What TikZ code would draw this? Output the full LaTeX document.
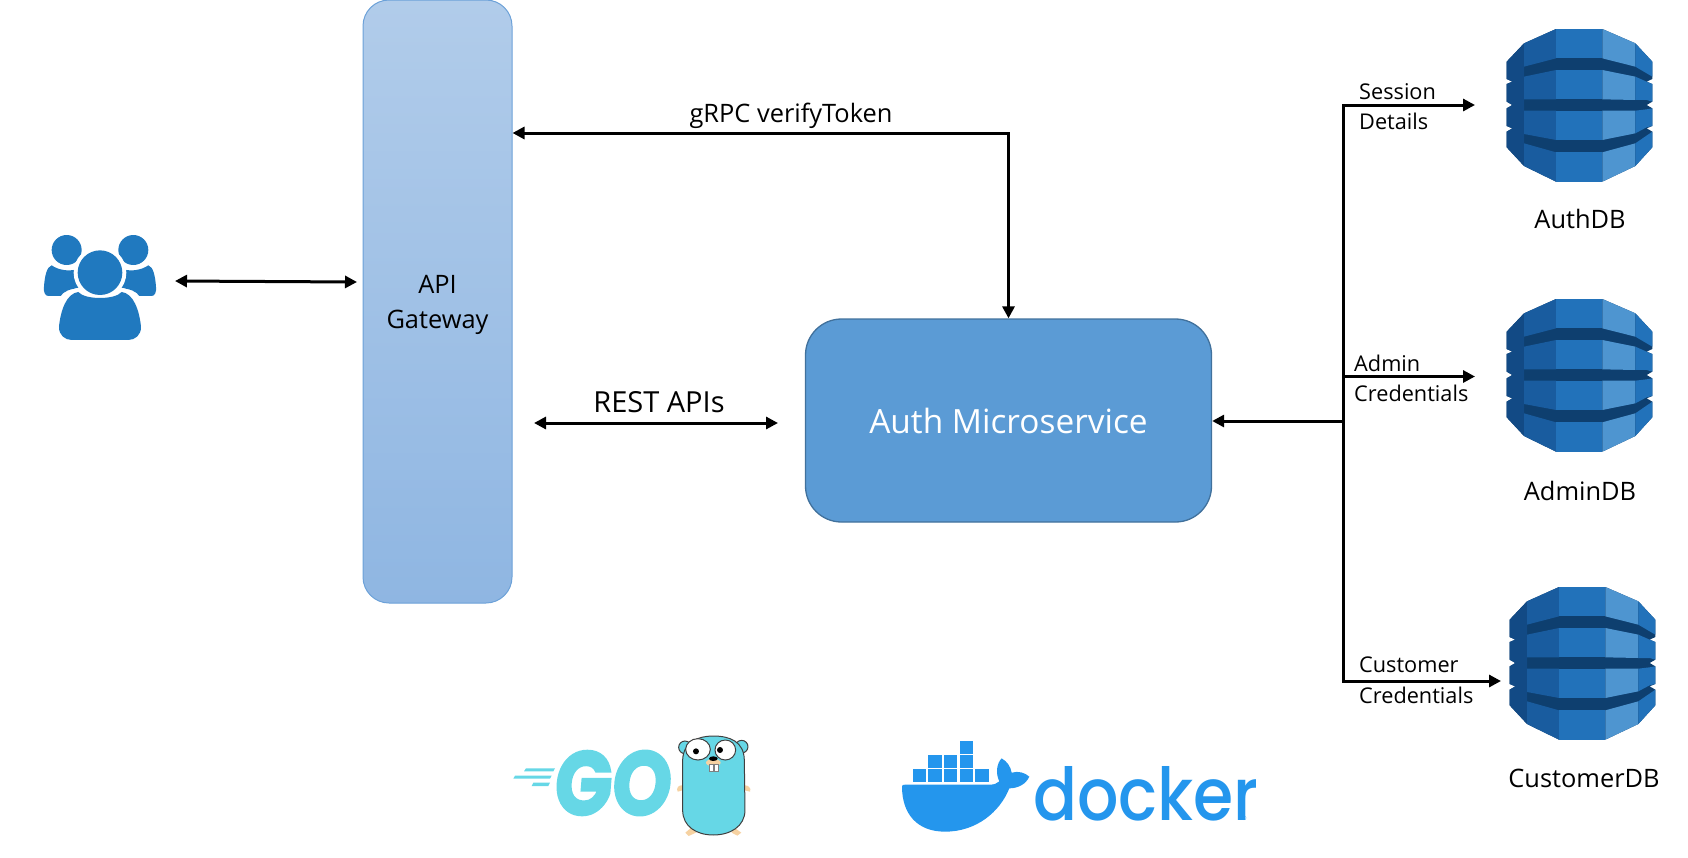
\documentclass[tikz,border=0pt]{standalone}
\usepackage{fontspec}
\setmainfont{Open Sans}
\newfontfamily\logofont[FakeBold=2.5,FakeSlant=0.1]{Poppins Bold}
\newfontfamily\dockfont{Poppins Medium}
\usetikzlibrary{arrows.meta}
\definecolor{dbdark}{HTML}{0E3F6F}
\definecolor{dbside}{HTML}{124A85}
\definecolor{dbleft}{HTML}{195C9F}
\definecolor{dbmid}{HTML}{2272BA}
\definecolor{dblight}{HTML}{4E95D0}
\definecolor{usercol}{HTML}{2079BF}
\definecolor{gocol}{HTML}{66D7E6}
\definecolor{dockcol}{HTML}{2496ED}
\definecolor{gotan}{HTML}{F6D2A2}
\tikzset{
 conn/.style={line width=3pt,-{Triangle[length=12pt,width=12pt]}},
 connboth/.style={line width=3pt,{Triangle[length=12pt,width=12pt]}-{Triangle[length=12pt,width=12pt]}},
 small/.style={font=\fontsize{21.7}{24}\selectfont,anchor=west,inner sep=0pt},
 mid/.style={font=\fontsize{25.4}{28}\selectfont,inner sep=0pt},
 big/.style={font=\fontsize{29}{32}\selectfont,inner sep=0pt},
 gopher/.style={draw=black!75,line width=1pt},
 db/.pic={
  \begin{scope}[x=0.3333pt,y=-0.3333pt]
  \fill[dbdark] (228,57)--(367,57)--(466,100)--(517,155)--(517,207)--(500,215)--(517,222)--(517,275)--(500,285)--(517,295)--(517,348)--(500,355)--(517,365)--(517,412)--(466,468)--(367,515)--(228,515)--(132,468)--(80,412)--(80,365)--(97,355)--(80,348)--(80,295)--(97,285)--(80,275)--(80,222)--(97,215)--(80,207)--(80,155)--(132,100)--cycle;
  \fill[dbside] (132,100)--(80,155)--(80,207)--(97,215)--(80,222)--(80,275)--(97,285)--(80,295)--(80,348)--(97,355)--(80,365)--(80,412)--(132,468)--cycle;
  \fill[dbleft] (132,100)--(228,57)--(228,145)--(132,170)--cycle;
  \fill[dbmid] (228,57)--(367,57)--(367,145)--(228,145)--cycle;
  \fill[dblight] (367,57)--(466,100)--(466,170)--(367,145)--cycle;
  \fill[dbmid] (466,100)--(517,155)--(517,200)--(466,170)--cycle;
  \fill[dbleft] (132,200)--(228,180)--(228,268)--(132,268)--cycle;
  \fill[dbmid] (228,180)--(367,180)--(367,268)--(228,268)--cycle;
  \fill[dblight] (367,180)--(466,200)--(466,270)--(367,268)--cycle;
  \fill[dbmid] (466,200)--(500,215)--(517,222)--(517,275)--(500,270)--(466,270)--cycle;
  \fill[dbleft] (132,302)--(228,302)--(228,390)--(132,372)--cycle;
  \fill[dbmid] (228,302)--(367,302)--(367,390)--(228,390)--cycle;
  \fill[dblight] (367,302)--(466,302)--(466,370)--(367,390)--cycle;
  \fill[dbmid] (466,302)--(500,298)--(517,295)--(517,348)--(500,352)--(466,370)--cycle;
  \fill[dbleft] (132,400)--(228,427)--(228,515)--(132,468)--cycle;
  \fill[dbmid] (228,427)--(367,427)--(367,515)--(228,515)--cycle;
  \fill[dblight] (367,427)--(466,400)--(466,468)--(367,515)--cycle;
  \fill[dbmid] (466,400)--(517,365)--(517,412)--(466,468)--cycle;
  \end{scope}
 },
 users/.pic={
  \begin{scope}[x=0.3333pt,y=-0.3333pt]
  \fill[usercol] (110,90) circle[radius=45];
  \fill[usercol] (310,90) circle[radius=45];
  \fill[usercol] (65,136) .. controls (85,150) and (115,155) .. (140,148) -- (150,205) .. controls (120,205) and (100,215) .. (92,228) -- (55,228) .. controls (45,228) and (40,215) .. (42,200) .. controls (44,170) and (50,140) .. (65,136) -- cycle;
  \fill[usercol] (355,136) .. controls (335,150) and (305,155) .. (280,148) -- (270,205) .. controls (300,205) and (320,215) .. (328,228) -- (365,228) .. controls (375,228) and (380,215) .. (378,200) .. controls (376,170) and (370,140) .. (355,136) -- cycle;
  \fill[white] (210,158) circle[radius=79];
  \fill[white] (80,370) -- (80,300) .. controls (85,240) and (110,205) .. (150,203) -- (270,203) .. controls (310,205) and (335,240) .. (340,300) -- (340,370) -- cycle;
  \fill[usercol] (210,158) circle[radius=67];
  \fill[usercol] (145,216) .. controls (165,240) and (255,240) .. (275,216) .. controls (310,220) and (328,270) .. (333,320) .. controls (334,345) and (315,360) .. (295,360) -- (125,360) .. controls (105,360) and (86,345) .. (87,320) .. controls (92,270) and (110,220) .. (145,216) -- cycle;
  \end{scope}
 },
 gobits/.pic={
  \begin{scope}[x=0.3333pt,y=-0.3333pt]
  \fill[gocol] (78,175)--(165,175)--(160,184)--(72,184)--cycle;
  \fill[gocol] (45,197)--(155,197)--(150,206)--(40,206)--cycle;
  \fill[gocol] (100,218)--(150,218)--(145,228)--(95,228)--cycle;
  \fill[gotan] (548,226) .. controls (535,224) and (528,235) .. (533,245) .. controls (540,245) and (548,240) .. (552,238) -- cycle;
  \fill[gotan] (732,226) .. controls (745,224) and (755,235) .. (750,245) .. controls (742,245) and (735,240) .. (730,238) -- cycle;
  \fill[gotan] (575,352) -- (556,368) -- (566,378) -- (588,368) -- cycle;
  \fill[gotan] (702,352) -- (724,368) -- (712,377) -- (695,368) -- cycle;
  \draw[gopher,fill=gocol] (555,112) circle[radius=19];
  \draw[gopher,fill=gocol] (725,110) circle[radius=19];
  \draw[gopher,fill=gocol] (548,150) .. controls (550,95) and (595,78) .. (640,78) .. controls (690,78) and (732,95) .. (733,150) -- (735,300) .. controls (735,350) and (690,375) .. (640,375) .. controls (590,375) and (548,350) .. (548,300) -- cycle;
  \draw[gopher,fill=white] (594,118) ellipse[x radius=37,y radius=32];
  \draw[gopher,fill=white] (676,120) ellipse[x radius=31,y radius=30];
  \fill[black] (588,124) circle[radius=9];
  \fill[black] (660,120) circle[radius=9];
  \fill[gotan] (640,158) ellipse[x radius=22,y radius=11];
  \draw[black!50,fill=white] (628,162) rectangle (640,185);
  \draw[black!50,fill=white] (642,162) rectangle (654,185);
  \fill[black] (640,146) ellipse[x radius=13,y radius=7];
  \end{scope}
 },
 whale/.pic={
  \begin{scope}[x=0.3333pt,y=-0.3333pt]
  \foreach \bx/\by in {209/63,115/105,162/105,209/105,68/148,115/148,162/148,209/148,256/148}
   \fill[dockcol] (\bx,\by) rectangle ++(40,38);
  \fill[dockcol] (36,200) .. controls (36,195) and (38,194) .. (45,194) -- (300,194) .. controls (312,194) and (322,190) .. (328,184) .. controls (316,160) and (320,130) .. (335,115) .. controls (352,125) and (362,140) .. (365,158) .. controls (385,152) and (405,158) .. (418,170) .. controls (408,192) and (385,205) .. (358,205) .. controls (330,275) and (260,335) .. (165,335) .. controls (80,335) and (36,280) .. (36,200) -- cycle;
  \end{scope}
 }
}
\begin{document}
\begin{tikzpicture}[x=1pt,y=-1pt]
\useasboundingbox (0,0) rectangle (1688,857);
% gateway and service
\node[minimum width=149pt,minimum height=603pt,rounded corners=26pt,inner sep=0pt,
  shade,top color={rgb,255:red,177;green,204;blue,234},bottom color={rgb,255:red,143;green,182;blue,226},
  draw={rgb,255:red,108;green,161;blue,216},line width=1pt,align=center,
  font=\fontsize{25.4}{35}\selectfont] (gw) at (437.5,301.5) {\raisebox{-9.5pt}[0pt][0pt]{API}\\\raisebox{-9.5pt}[0pt][0pt]{Gateway}};
\node[minimum width=406pt,minimum height=203pt,rounded corners=36pt,fill={rgb,255:red,91;green,155;blue,213},
  draw={rgb,255:red,65;green,113;blue,156},line width=1.3pt,text=white,inner sep=0pt,
  font=\fontsize{33.4}{38}\selectfont] (auth) at (1008.5,420.5) {Auth Microservice};
% icons
\pic (userspic) at (30,220) {users};
\pic (db1) at (1480,10) {db};
\pic (db2) at (1480,280) {db};
\pic (db3) at (1483,568) {db};
\node[font=\logofont\fontsize{90}{90}\selectfont,text=gocol,inner sep=0pt] (golbl) at (611,783) {\scalebox{0.84}[1]{GO}};
\pic (gobitspic) at (500,710) {gobits};
\pic (whalepic) at (890,720) {whale};
\node[font=\dockfont\fontsize{73}{73}\selectfont,text=dockcol,inner sep=0pt,anchor=base west] (docklbl) at (1033,820) {\scalebox{0.89}[1]{docker}};
\node[font=\fontsize{6}{6}\selectfont,text=dockcol,inner sep=0pt] (rmark) at (1244,818) {®};
% anchors
\coordinate (u1) at (175,281);
\coordinate (u2) at (357,282);
\coordinate (gc) at (1008.5,133);
\coordinate (r1) at (534,423);
\coordinate (r2) at (778,423);
\coordinate (ttop) at (1343,105);
\coordinate (tmid) at (1343,376.5);
\coordinate (tjoin) at (1343,421);
\coordinate (tbot) at (1343,681);
\coordinate (e1) at (1475,105);
\coordinate (e2) at (1475,376.5);
\coordinate (e3) at (1501,681);
% connectors
\draw[connboth] (u1) -- (u2);
\draw[connboth] (gw.east |- gc) -- (gc) -- (gc |- auth.north);
\draw[connboth] (r1) -- (r2);
\draw[conn] (tmid) -- (e2);
\draw[conn] (tjoin) -- (auth.east |- tjoin);
\draw[conn] (tbot) -- (ttop) -- (e1);
\draw[conn] (ttop) -- (tbot) -- (e3);
% labels
\node[mid] (l1) at (791,116) {gRPC verifyToken};
\node[big] (l2) at (659,402) {REST APIs};
\node[small] (s1) at (1359,91.5) {Session};
\node[small] (s2) at (1359,121) {Details};
\node[small] (s3) at (1354,363) {Admin};
\node[small] (s4) at (1354,393) {Credentials};
\node[small] (s5) at (1359,665) {Customer};
\node[small] (s6) at (1359,695) {Credentials};
\node[mid] (d1) at (1580,219) {AuthDB};
\node[mid] (d2) at (1580,491) {AdminDB};
\node[mid] (d3) at (1584,778) {CustomerDB};
\end{tikzpicture}
\end{document}
